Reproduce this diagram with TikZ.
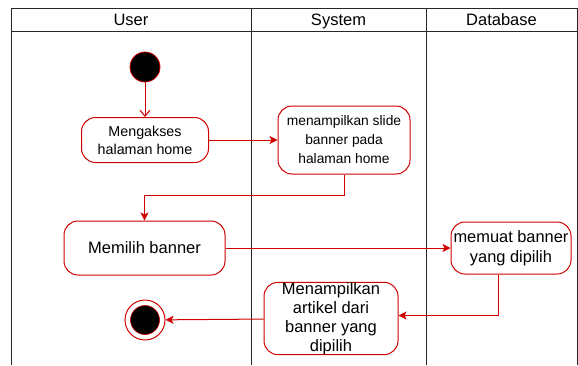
\documentclass[tikz,border=0pt]{standalone}
\usepackage{fontspec}
\setmainfont{Liberation Sans}
\usetikzlibrary{arrows.meta}
\definecolor{actred}{HTML}{D00000}
\tikzset{
  act/.style={draw=actred,fill=white,rounded corners=14pt,align=center,inner sep=0pt,line width=1pt},
  flow/.style={draw=actred,line width=1pt,-{Stealth[length=8pt,width=8pt,inset=2pt]}},
  lane/.style={draw=black!85,line width=0.9pt},
  lanetitle/.style={font=\fontsize{16.5}{18}\selectfont,anchor=base,inner sep=0pt},
}
\begin{document}
\begin{tikzpicture}[x=1pt,y=-1pt]
    \useasboundingbox (0,0) rectangle (578,365);
    \fill[white] (0,0) rectangle (578,365);

    % swimlanes
    \draw[lane] (11,8) rectangle (577,31);
    \foreach \x in {11,251,426,577} \draw[lane] (\x,8) -- (\x,365);
    \node[lanetitle] (laneuser) at (131,25) {User};
    \node[lanetitle] (lanesys) at (338.5,25) {System};
    \node[lanetitle] (lanedb) at (501.5,25) {Database};

    \node[circle,fill=black,draw=actred,line width=0.8pt,minimum size=30pt,inner sep=0pt] (start) at (145,67) {};
    \node[act,minimum width=127pt,minimum height=45pt,font=\fontsize{14.3}{18}\selectfont] (home) at (145,140) {Mengakses\\halaman home};
    \node[act,minimum width=132pt,minimum height=68pt,font=\fontsize{13.8}{19}\selectfont] (slide) at (344,140) {menampilkan slide\\banner pada\\halaman home};
    \node[act,minimum width=161pt,minimum height=54pt,font=\fontsize{16.5}{18}\selectfont] (pilih) at (144.5,248) {Memilih banner};
    \node[act,minimum width=120pt,minimum height=52pt,font=\fontsize{16.4}{20}\selectfont] (muat) at (511,248) {memuat banner\\yang dipilih};
    \node[act,minimum width=134pt,minimum height=62pt,font=\fontsize{16.5}{19}\selectfont] (artikel) at (331,318.5) {Menampilkan\\artikel dari\\banner yang\\dipilih};
    \node[circle,draw=actred,fill=white,line width=1pt,minimum size=40pt,inner sep=0pt] (stop) at (145,320) {};
    \fill[black,draw=actred,line width=0.6pt] (stop.center) circle (14.5pt);

    \draw[draw=actred,line width=1pt,-{Straight Barb[length=6pt,width=10pt]}] (start) -- (home);
    \draw[flow] (home) -- (slide);
    \draw[flow] (slide.south) -- ++(0,21) -| (pilih.north);
    \draw[flow] (pilih) -- (muat);
    \draw[flow] ([xshift=-13pt]muat.south) |- ([yshift=3pt]artikel.east);
    \draw[flow] (artikel) -- (stop);
\end{tikzpicture}
\end{document}
